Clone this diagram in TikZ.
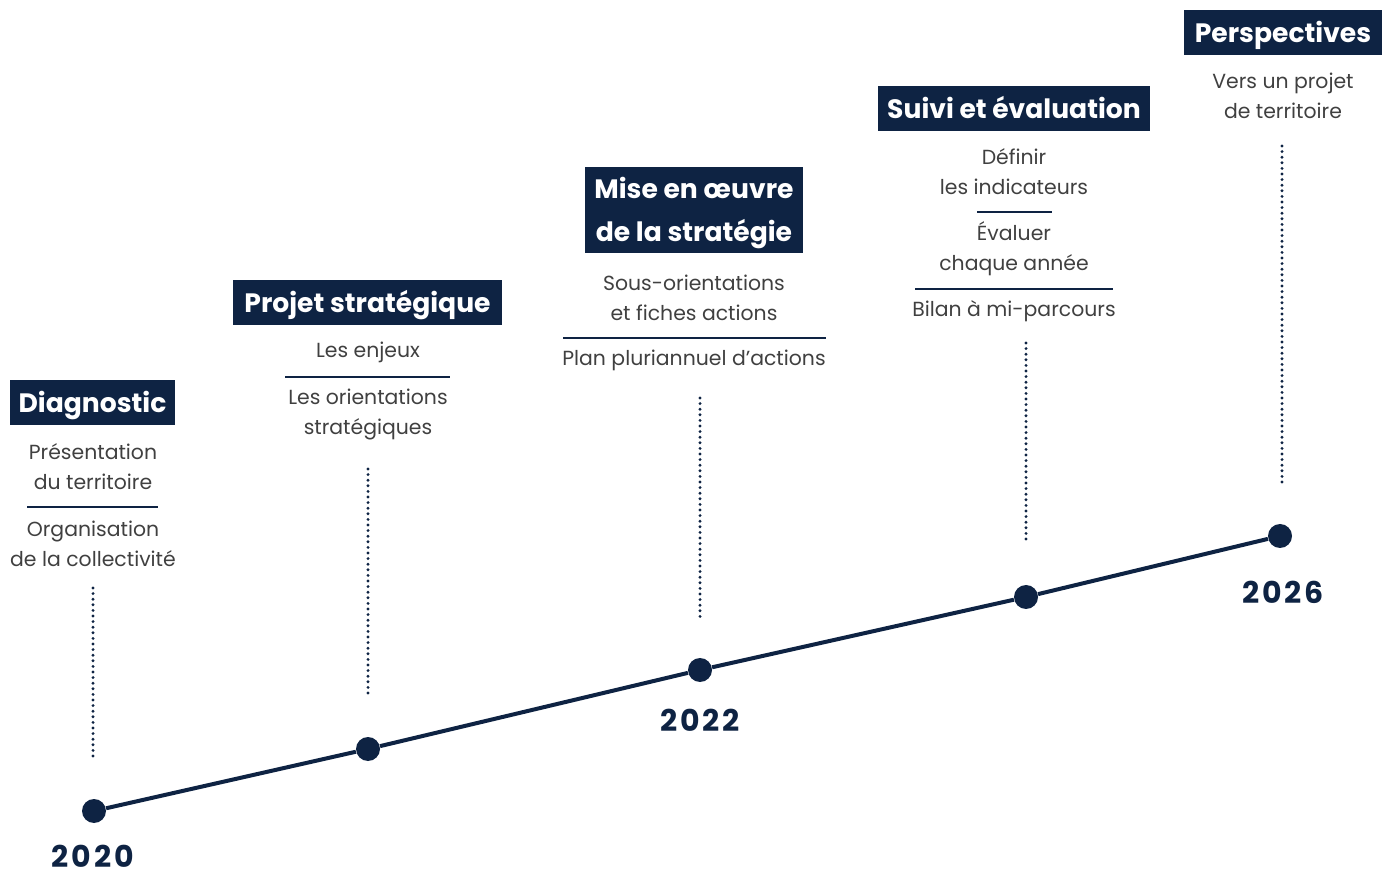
\documentclass[tikz,border=0pt]{standalone}
\usepackage{fontspec}
\setmainfont{Poppins}
\newfontfamily\yearfont[LetterSpace=10]{Poppins}
\definecolor{navy}{HTML}{0E2343}
\definecolor{ink}{HTML}{404040}

\tikzset{
  head/.style={fill=navy, text=white, font=\fontsize{13.3}{21.5}\selectfont\bfseries,
    minimum height=22.5pt, inner sep=0pt, align=center, text depth=1pt},
  txt/.style={text=ink, font=\fontsize{10.2}{15}\selectfont, align=center, inner sep=0pt},
  sep/.style={navy, line width=1.4pt},
  guide/.style={navy, line width=1.6pt, dash pattern=on 0pt off 2.8pt, line cap=round},
  dot/.style={circle, fill=navy, minimum size=12pt, inner sep=0pt},
  year/.style={text=navy, font=\yearfont\bfseries\fontsize{15}{15}\selectfont, inner sep=0pt}
}

\begin{document}
\begin{tikzpicture}[x=0.5pt, y=-0.5pt]
    \useasboundingbox (0,0) rectangle (1388,871);

    % jalons
    \node[dot] (p2020) at (94,811) {};
    \node[dot] (p2021) at (368,749) {};
    \node[dot] (p2022) at (700,670) {};
    \node[dot] (p2024) at (1026,597) {};
    \node[dot] (p2026) at (1280,536) {};
    \draw[navy, line width=2pt] (p2020) -- (p2021) -- (p2022) -- (p2024) -- (p2026);

    % années
    \node[year] (y2020) at (93,856) {2020};
    \node[year] (y2022) at (700,720) {2022};
    \node[year] (y2026) at (1283,592) {2026};

    % Diagnostic
    \node[head, minimum width=82.5pt] (diag) at (92.5,403) {Diagnostic};
    \node[txt] (diag1) at (93,467) {Présentation\\du territoire};
    \node[txt] (diag2) at (93,544) {Organisation\\de la collectivité};
    \draw[sep] (27,507) coordinate (r1a) -- (158,507) coordinate (r1b);
    \coordinate (g1a) at (93,588);
    \coordinate (g1b) at (93,760);
    \draw[guide] (g1a) -- (g1b);

    % Projet stratégique
    \node[head, minimum width=134.5pt] (proj) at (367.5,302.5) {Projet stratégique};
    \node[txt] (proj1) at (368,352) {Les enjeux};
    \node[txt] (proj2) at (368,414) {Les orientations\\stratégiques};
    \draw[sep] (285,377) coordinate (r2a) -- (450,377) coordinate (r2b);
    \coordinate (g2a) at (368,469);
    \coordinate (g2b) at (368,693);
    \draw[guide] (g2a) -- (g2b);

    % Mise en oeuvre
    \node[head, minimum width=109pt, minimum height=43pt] (mise) at (694,210)
        {Mise en œuvre\\de la stratégie};
    \node[txt] (mise1) at (694,298) {Sous-orientations\\et fiches actions};
    \node[txt] (mise2) at (694,360) {Plan pluriannuel d’actions};
    \draw[sep] (563,338) coordinate (r3a) -- (826,338) coordinate (r3b);
    \coordinate (g3a) at (700,398);
    \coordinate (g3b) at (700,620);
    \draw[guide] (g3a) -- (g3b);

    % Suivi et évaluation
    \node[head, minimum width=136pt] (suivi) at (1014,108.5) {Suivi et évaluation};
    \node[txt] (suivi1) at (1014,172) {Définir\\les indicateurs};
    \node[txt] (suivi2) at (1014,249) {Évaluer\\chaque année};
    \node[txt] (suivi3) at (1014,311) {Bilan à mi-parcours};
    \draw[sep] (977,212) coordinate (r4a) -- (1052,212) coordinate (r4b);
    \draw[sep] (915,289) coordinate (r5a) -- (1113,289) coordinate (r5b);
    \coordinate (g4a) at (1026,343);
    \coordinate (g4b) at (1026,540);
    \draw[guide] (g4a) -- (g4b);

    % Perspectives
    \node[head, minimum width=99pt] (persp) at (1283,32.5) {Perspectives};
    \node[txt] (persp1) at (1283,96) {Vers un projet\\de territoire};
    \coordinate (g5a) at (1282,146);
    \coordinate (g5b) at (1282,483);
    \draw[guide] (g5a) -- (g5b);
\end{tikzpicture}
\end{document}
